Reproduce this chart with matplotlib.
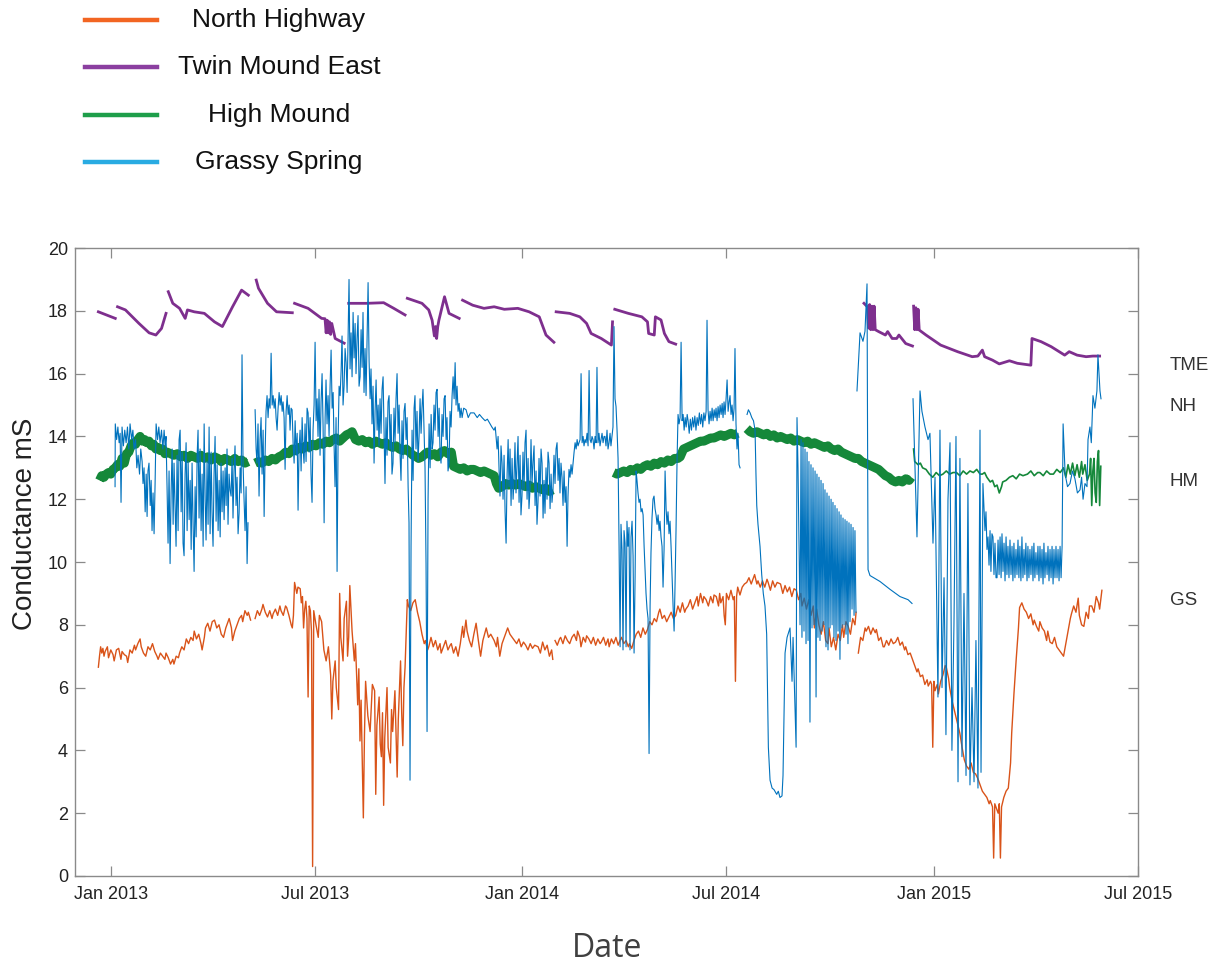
import numpy as np
import pandas as pd
import matplotlib
matplotlib.use('Agg')
import matplotlib.pyplot as plt
import matplotlib.dates as mdates
from matplotlib.lines import Line2D

nan = np.nan
t0 = pd.Timestamp('2013-01-01')

# (days after 1 Jan 2013, conductance mS); nan breaks the line between deployments
north_highway = [
    (-11, 6.65), (-10, 7.0), (-9, 7.3), (-8, 7.1), (-7, 7.25), (-6, 7.0), (-5, 7.15), (-3, 7.3), (-2, 6.95), (0, 7.2),
    (2, 7.05), (3, 6.85), (5, 7.2), (7, 7.25), (9, 6.9), (10, 7.15), (12, 7.05), (14, 7.0), (15, 6.8), (17, 7.2),
    (19, 7.1), (21, 7.35), (22, 7.2), (24, 7.4), (26, 7.55), (27, 7.3), (29, 7.1), (31, 7.0), (33, 7.3), (35, 7.2),
    (37, 7.4), (39, 7.15), (41, 7.0), (42, 6.9), (44, 7.1), (46, 7.0), (48, 6.9), (49, 7.1), (51, 6.95), (53, 6.75),
    (55, 6.9), (56, 6.75), (58, 7.0), (60, 6.95), (61, 7.1), (63, 7.3), (65, 7.2), (67, 7.55), (69, 7.4), (71, 7.6),
    (73, 7.5), (74, 7.8), (76, 7.55), (78, 7.7), (80, 7.4), (81, 7.2), (83, 7.6), (84, 7.9), (86, 8.05), (88, 7.8),
    (90, 8.1), (92, 8.15), (94, 7.9), (96, 8.0), (98, 7.7), (100, 7.6), (102, 7.9), (104, 8.1), (105, 8.2), (107, 7.9),
    (108, 7.5), (110, 7.8), (112, 8.0), (114, 8.2), (116, 8.3), (117, 8.1), (119, 8.45), (121, 8.3), (122, 8.4), (124, 8.15),
    (126, nan), (128, 8.2), (130, 8.45), (132, 8.3), (134, 8.5), (135, 8.65), (137, 8.4), (139, 8.25), (141, 8.45), (143, 8.2),
    (144, 8.35), (146, 8.5), (148, 8.3), (150, 8.6), (151, 8.45), (153, 8.3), (155, 8.6), (156, 8.55), (158, 8.3), (160, 8.0),
    (161, 7.9), (162, 8.3), (163, 9.35), (165, 9.0), (166, 9.2), (168, 9.15), (169, 8.7), (170, 8.9), (171, 7.9), (172, 8.5),
    (173, 8.75), (174, 8.2), (175, 5.7), (176, 8.6), (177, 8.45), (178, 7.8), (179, 0.3), (180, 8.45), (182, 8.0), (184, 7.6),
    (185, 8.3), (187, 8.1), (189, 7.2), (191, 6.85), (193, 7.3), (195, 6.4), (196, 5.0), (197, 6.2), (199, 6.85), (200, 6.0),
    (202, 5.3), (203, 9.0), (204, 7.6), (206, 6.85), (207, 8.2), (209, 8.75), (210, 7.0), (211, 7.6), (212, 9.25), (214, 7.8),
    (216, 6.85), (217, 7.4), (219, 5.45), (220, 6.6), (221, 4.3), (222, 5.6), (224, 1.85), (225, 4.5), (226, 6.2), (228, 5.1),
    (230, 4.6), (232, 6.1), (234, 5.9), (235, 2.6), (236, 4.8), (238, 5.7), (239, 4.2), (240, 3.8), (241, 5.2), (242, 2.25),
    (243, 4.4), (245, 6.0), (246, 4.1), (248, 3.6), (249, 5.3), (250, 4.6), (252, 5.9), (254, 3.15), (255, 5.0), (257, 6.85),
    (258, 5.2), (259, 4.15), (260, 6.0), (261, 6.65), (263, 8.8), (264, 8.6), (266, 8.45), (268, 8.7), (270, 8.8), (272, 8.4),
    (274, 8.1), (276, 7.7), (278, 7.4), (279, 7.5), (281, 7.2), (282, 7.3), (284, 7.6), (286, 7.3), (288, 7.5), (290, 7.2),
    (292, 7.4), (293, 7.1), (295, 7.3), (297, 7.5), (299, 7.2), (301, 7.35), (302, 7.4), (304, 7.1), (306, 7.3), (308, 7.0),
    (310, 7.4), (312, 7.95), (313, 7.6), (315, 8.15), (316, 7.8), (318, 7.5), (320, 7.3), (322, 7.7), (324, 8.05), (326, 7.5),
    (328, 7.0), (330, 7.5), (333, 7.9), (335, 7.6), (337, 7.7), (340, 7.5), (342, 7.3), (343, 7.6), (345, 7.0), (347, 7.4),
    (349, 7.6), (352, 7.9), (354, 7.7), (356, 7.6), (358, 7.5), (360, 7.4), (362, 7.55), (364, 7.3), (366, 7.45), (368, 7.35),
    (370, 7.2), (372, 7.4), (374, 7.25), (376, 7.35), (379, 7.3), (381, 7.1), (383, 7.45), (385, 7.2), (387, 7.35), (389, 7.0),
    (391, 7.2), (392, 6.9), (393, nan), (394, 7.5), (396, 7.35), (398, 7.55), (399, 7.6), (401, 7.4), (403, 7.65), (405, 7.5),
    (407, 7.4), (409, 7.6), (411, 7.7), (413, 7.5), (414, 7.8), (416, 7.6), (417, 7.3), (419, 7.6), (421, 7.45), (422, 7.65),
    (424, 7.55), (426, 7.4), (428, 7.6), (430, 7.35), (432, 7.55), (434, 7.4), (435, 7.45), (437, 7.6), (439, 7.35), (441, 7.55),
    (442, 7.3), (444, 7.55), (446, 7.4), (448, 7.6), (450, 7.35), (451, 7.45), (453, 7.6), (455, 7.4), (457, 7.5), (459, 7.3),
    (460, 7.4), (462, 7.25), (464, 7.5), (466, 7.7), (468, 7.8), (470, 7.6), (472, 7.9), (474, 7.7), (476, 7.85), (478, 8.1),
    (480, 8.0), (482, 8.2), (484, 8.1), (486, 8.4), (487, 8.5), (489, 8.2), (491, 8.3), (493, 8.1), (495, 8.25), (497, 8.4),
    (499, 8.2), (501, 8.3), (503, 8.6), (505, 8.4), (507, 8.7), (509, 8.4), (510, 8.5), (512, 8.6), (514, 8.8), (516, 8.5),
    (518, 8.7), (520, 8.9), (521, 8.6), (523, 9.0), (525, 8.7), (526, 8.9), (528, 8.8), (530, 8.6), (532, 8.9), (534, 8.7),
    (535, 8.95), (537, 8.9), (539, 8.6), (540, 9.0), (541, 8.7), (543, 8.9), (544, 8.3), (545, 8.0), (546, 9.0), (548, 8.8),
    (550, 9.1), (552, 8.8), (553, 8.9), (554, 6.2), (555, 8.9), (556, 9.2), (558, 8.95), (560, 9.2), (562, 9.3), (564, 9.35),
    (566, 9.5), (568, 9.3), (570, 9.5), (571, 9.6), (573, 9.3), (574, 9.4), (576, 9.2), (578, 9.4), (580, 9.2), (582, 9.45),
    (583, 9.35), (585, 9.1), (587, 9.4), (589, 9.2), (591, 9.35), (594, 9.3), (596, 9.0), (598, 9.25), (600, 9.05), (602, 9.2),
    (604, 8.9), (606, 9.15), (608, 9.1), (610, 8.8), (612, 9.0), (613, 8.6), (615, 8.85), (617, 8.5), (619, 8.8), (621, 8.3),
    (623, 8.6), (624, 7.9), (626, 8.5), (628, 8.0), (630, 7.7), (632, 8.1), (634, 7.5), (636, 7.4), (637, 7.9), (639, 7.3),
    (641, 7.6), (643, 7.2), (645, 7.7), (647, 7.5), (649, 8.0), (650, 7.6), (652, 8.1), (654, 7.95), (656, 7.7), (658, 8.2),
    (660, 8.0), (661, 8.4), (662, nan), (663, 7.1), (665, 7.6), (667, 7.5), (669, 7.9), (670, 7.8), (672, 7.95), (674, 7.7),
    (676, 7.9), (678, 7.75), (679, 7.85), (681, 7.5), (683, 7.6), (685, 7.3), (686, 7.3), (688, 7.5), (690, 7.35), (692, 7.55),
    (694, 7.4), (696, 7.45), (698, 7.6), (700, 7.35), (702, 7.45), (704, 7.2), (705, 7.3), (707, 7.05), (709, 7.1), (711, 6.9),
    (713, 6.7), (715, 6.5), (716, 6.6), (718, 6.35), (720, 6.4), (722, 6.1), (724, 6.25), (725, 6.05), (727, 6.2), (728, 6.1),
    (729, 4.1), (730, 6.2), (731, 5.9), (733, 6.1), (734, 5.8), (736, 6.2), (738, 6.4), (740, 6.7), (741, 6.65), (743, 6.3),
    (744, 6.0), (746, 5.6), (748, 5.3), (750, 5.0), (752, 4.7), (753, 4.55), (755, 4.1), (757, 3.7), (759, 3.5), (761, 3.4),
    (763, 3.6), (765, 3.3), (767, 3.25), (769, 3.1), (771, 2.9), (773, 2.7), (775, 2.6), (777, 2.5), (779, 2.3), (780, 2.4),
    (782, 2.2), (783, 0.57), (784, 2.3), (785, 2.2), (787, 2.0), (788, 2.3), (789, 0.57), (790, 2.2), (792, 2.5), (794, 2.7),
    (796, 2.8), (798, 3.6), (799, 4.55), (801, 5.8), (803, 6.9), (805, 7.9), (806, 8.55), (808, 8.7), (810, 8.5), (812, 8.4),
    (814, 8.2), (816, 8.35), (818, 8.0), (819, 8.15), (821, 7.95), (823, 7.8), (824, 8.1), (826, 7.9), (828, 7.8), (830, 7.5),
    (831, 7.8), (833, 7.45), (835, 7.4), (837, 7.6), (839, 7.3), (841, 7.2), (843, 7.1), (845, 7.0), (847, 7.4), (849, 7.8),
    (851, 8.2), (852, 8.35), (854, 8.6), (856, 8.4), (858, 8.85), (859, 8.3), (861, 8.0), (863, 7.95), (865, 8.4), (867, 8.2),
    (868, 8.6), (870, 8.6), (872, 8.4), (874, 8.9), (876, 8.7), (877, 8.5), (879, 9.1),
]

twin_mound_east = [
    (-11, 17.97), (4, 17.76), (5, nan), (6, 18.13), (13, 18.03), (25, 17.6), (34, 17.3), (40, 17.23), (45, 17.44), (49, 17.92),
    (50, nan), (51, 18.61), (55, 18.24), (61, 18.08), (66, 17.76), (68, 18.03), (74, 17.97), (83, 17.92), (92, 17.65), (99, 17.5),
    (108, 18.13), (116, 18.66), (122, 18.5), (125, nan), (129, 18.98), (131, 18.72), (139, 18.24), (147, 17.97), (161, 17.94), (162, nan),
    (163, 18.24), (175, 18.08), (187, 17.76), (190, 17.75), (191, 17.3), (192, 17.7), (193, 17.3), (194, 17.65), (195, 17.25), (196, 17.6),
    (199, 17.12), (207, 16.97), (209, nan), (211, 18.24), (227, 18.24), (242, 18.26), (251, 18.08), (261, 17.87), (262, nan), (263, 18.4),
    (276, 18.24), (282, 18.03), (285, 17.7), (287, 17.2), (288, 17.5), (289, 17.12), (290, 17.5), (291, 17.7), (296, 18.45), (300, 17.92),
    (309, 17.76), (310.5, nan), (312, 18.34), (321, 18.18), (331, 18.08), (340, 18.13), (349, 18.05), (361, 18.08), (371, 17.97), (380, 17.81),
    (386, 17.23), (393, 17.0), (394, nan), (395, 17.97), (407, 17.92), (416, 17.81), (422, 17.6), (426, 17.28), (435, 17.12), (444, 16.91),
    (445, 17.65), (446, nan), (447, 18.05), (459, 17.92), (471, 17.81), (476, 17.65), (477, 17.28), (482, 17.23), (483, 17.81), (488, 17.71),
    (491, 17.28), (495, 17.02), (501, 16.94), (502, nan), (668, 18.24), (671, 18.13), (672, 17.45), (673, 18.2), (674, 17.4), (675, 18.15),
    (676, 17.4), (677, 18.15), (678, 17.4), (681, 17.34), (687, 17.23), (689, 17.34), (693, 17.12), (697, 17.12), (699, 17.23), (705, 16.96),
    (711, 16.88), (711.5, nan), (712, 18.15), (713, 17.4), (714, 18.1), (715, 17.4), (716, 18.05), (717, 17.39), (723, 17.23), (736, 16.91),
    (751, 16.7), (764, 16.54), (769, 16.56), (773, 16.75), (775, 16.54), (782, 16.43), (788, 16.31), (797, 16.41), (804, 16.33), (816, 16.27),
    (817, 17.12), (825, 17.02), (834, 16.86), (846, 16.59), (850, 16.7), (857, 16.59), (865, 16.54), (871, 16.56), (877, 16.56),
]

high_mound = [
    (-10, 12.6), (-8, 12.75), (-6, 12.7), (-4, 12.8), (-2, 12.85), (0, 12.8), (2, 12.95), (4, 13.0), (6, 13.1), (8, 13.05),
    (10, 13.3), (12, 13.15), (14, 13.45), (16, 13.5), (18, 13.7), (20, 13.8), (22, 13.75), (24, 13.9), (26, 14.0), (28, 13.85),
    (30, 13.9), (32, 13.8), (34, 13.85), (36, 13.7), (38, 13.75), (40, 13.6), (42, 13.65), (44, 13.55), (46, 13.6), (48, 13.45),
    (50, 13.5), (53, 13.45), (56, 13.4), (59, 13.45), (62, 13.35), (65, 13.4), (68, 13.3), (71, 13.4), (74, 13.35), (77, 13.3),
    (80, 13.4), (83, 13.3), (86, 13.35), (89, 13.25), (92, 13.35), (95, 13.3), (98, 13.2), (101, 13.3), (104, 13.25), (107, 13.2),
    (110, 13.3), (113, 13.2), (116, 13.25), (119, 13.15), (122, 13.2), (124, nan), (128, 13.15), (131, 13.2), (134, 13.15), (137, 13.25),
    (140, 13.2), (143, 13.3), (146, 13.25), (149, 13.35), (152, 13.4), (155, 13.5), (158, 13.45), (161, 13.6), (164, 13.55), (167, 13.65),
    (170, 13.6), (173, 13.7), (176, 13.65), (179, 13.75), (182, 13.7), (185, 13.8), (188, 13.75), (191, 13.85), (194, 13.8), (197, 13.9),
    (200, 13.95), (203, 13.85), (206, 13.95), (209, 14.05), (212, 14.1), (214, 14.15), (217, 13.9), (220, 13.85), (223, 13.9), (226, 13.8),
    (229, 13.85), (232, 13.75), (235, 13.85), (238, 13.8), (241, 13.75), (244, 13.8), (247, 13.7), (250, 13.65), (253, 13.7), (256, 13.6),
    (259, 13.55), (262, 13.6), (265, 13.5), (268, 13.4), (271, 13.35), (273, 13.3), (276, 13.35), (279, 13.45), (281, 13.5), (284, 13.4),
    (287, 13.45), (290, 13.35), (293, 13.5), (296, 13.55), (299, 13.45), (302, 13.5), (304, 13.05), (307, 13.0), (310, 12.95), (313, 13.0),
    (316, 12.9), (319, 12.95), (322, 12.95), (325, 12.9), (328, 12.85), (331, 12.9), (334, 12.85), (337, 12.8), (340, 12.75), (342, 12.5),
    (344, 12.35), (347, 12.4), (350, 12.5), (353, 12.45), (356, 12.5), (359, 12.45), (362, 12.5), (365, 12.45), (368, 12.4), (371, 12.45),
    (374, 12.35), (377, 12.4), (380, 12.35), (383, 12.3), (386, 12.35), (389, 12.25), (392, 12.3), (420, nan), (446, 12.85), (449, 12.8),
    (452, 12.85), (455, 12.9), (458, 12.85), (461, 12.95), (464, 12.9), (467, 13.0), (470, 12.95), (473, 13.05), (476, 13.1), (479, 13.05),
    (482, 13.15), (485, 13.1), (488, 13.2), (491, 13.15), (494, 13.25), (497, 13.2), (500, 13.3), (503, 13.3), (505, 13.35), (508, 13.6),
    (511, 13.65), (514, 13.7), (517, 13.75), (520, 13.8), (523, 13.85), (526, 13.85), (529, 13.9), (532, 13.95), (535, 13.95), (538, 14.0),
    (541, 14.05), (544, 14.0), (547, 14.05), (550, 14.1), (553, 14.05), (556, 14.1), (557, nan), (564, 14.25), (567, 14.15), (570, 14.1),
    (573, 14.15), (576, 14.1), (579, 14.05), (582, 14.1), (585, 14.0), (588, 14.05), (591, 13.95), (594, 14.0), (597, 13.95), (600, 13.9),
    (603, 13.95), (606, 13.85), (609, 13.9), (612, 13.85), (615, 13.8), (618, 13.85), (621, 13.75), (624, 13.8), (627, 13.75), (630, 13.7),
    (633, 13.65), (636, 13.7), (639, 13.6), (642, 13.55), (645, 13.6), (648, 13.5), (651, 13.45), (654, 13.4), (657, 13.35), (660, 13.3),
    (663, 13.3), (666, 13.2), (669, 13.15), (672, 13.1), (675, 13.05), (678, 13.0), (681, 12.95), (684, 12.85), (687, 12.75), (690, 12.7),
    (693, 12.6), (696, 12.55), (699, 12.6), (702, 12.55), (705, 12.65), (708, 12.6), (710, 12.7), (711, nan), (712, 13.6), (713, 13.2),
    (716, 13.1), (718, 13.15), (720, 13.0), (723, 12.95), (726, 12.8), (729, 12.7), (732, 12.85), (735, 12.75), (738, 12.8), (741, 12.9),
    (744, 12.8), (747, 12.85), (750, 12.85), (753, 12.75), (756, 12.9), (759, 12.8), (762, 12.9), (765, 12.85), (768, 12.95), (771, 12.8),
    (773, 12.8), (775, 12.85), (777, 12.7), (780, 12.55), (782, 12.6), (784, 12.4), (786, 12.45), (788, 12.2), (790, 12.4), (791, 12.55),
    (794, 12.6), (797, 12.7), (800, 12.75), (803, 12.65), (806, 12.8), (809, 12.75), (813, 12.8), (816, 12.9), (819, 12.75), (822, 12.85),
    (824, 12.85), (827, 12.75), (830, 12.9), (833, 12.8), (836, 12.8), (839, 12.95), (842, 12.85), (845, 13.0), (847, 12.7), (849, 13.1),
    (851, 12.8), (853, 13.15), (855, 12.75), (857, 13.1), (859, 12.7), (861, 13.2), (862, 12.8), (864, 13.1), (866, 12.6), (868, 12.8),
    (869, 13.3), (870, 11.8), (871, 12.9), (872, 13.3), (873, 12.2), (874, 11.9), (875, 13.2), (876, 13.55), (877, 11.8), (878, 13.05),
]

grassy_spring = [
    (3.8, 12.4), (4.0, 14.4), (5.2, 13.9), (6.3, 14.3), (7.4, 13.8), (8.3, 14.1), (9.1, 11.9), (10.0, 14.3), (11.2, 13.7), (12.4, 14.2),
    (13.6, 13.8), (14.8, 14.3), (16.0, 13.6), (17.1, 14.4), (18.5, 13.9), (19.6, 14.2), (20.7, 13.6), (22.0, 13.9), (23.1, 13.0), (24.2, 13.4),
    (25.5, 12.8), (26.6, 13.6), (27.8, 13.2), (28.6, 12.5), (29.5, 13.0), (30.5, 11.6), (31.4, 12.8), (32.2, 11.45), (33.0, 12.9), (33.9, 13.15),
    (35.0, 11.8), (35.8, 12.6), (36.6, 11.0), (37.5, 12.2), (38.4, 10.9), (39.3, 12.5), (40.2, 14.4), (41.5, 13.9), (42.6, 14.3), (43.7, 13.8),
    (45.0, 14.2), (46.2, 13.6), (47.3, 14.2), (48.2, 13.7), (49.0, 14.0), (49.9, 12.4), (50.8, 10.6), (51.7, 12.9), (52.6, 9.95), (53.5, 12.2),
    (54.4, 13.6), (55.3, 11.2), (56.1, 13.15), (57.0, 11.8), (57.9, 10.5), (58.8, 13.4), (59.7, 11.0), (60.6, 13.9), (61.5, 14.2), (62.4, 11.6),
    (63.3, 13.5), (64.1, 10.6), (65.0, 10.2), (65.9, 12.8), (66.8, 13.8), (67.7, 11.0), (68.6, 13.2), (69.5, 11.35), (70.4, 12.6), (71.3, 10.4),
    (72.1, 13.15), (73.0, 11.2), (73.9, 9.7), (74.8, 12.4), (75.7, 10.8), (76.6, 13.4), (77.4, 14.2), (78.3, 11.4), (79.2, 13.6), (80.1, 11.0),
    (81.0, 12.8), (81.9, 10.5), (82.8, 14.4), (83.7, 12.0), (84.5, 10.7), (85.4, 13.2), (86.3, 11.2), (87.2, 14.3), (88.1, 10.9), (89.0, 13.5),
    (89.8, 11.6), (90.7, 10.5), (91.6, 12.8), (92.5, 14.0), (93.4, 11.3), (94.3, 13.1), (95.2, 11.0), (96.1, 12.6), (97.0, 10.8), (97.8, 13.15),
    (98.7, 11.6), (99.6, 12.9), (100.5, 11.35), (101.4, 13.0), (102.3, 11.8), (103.1, 13.6), (104.0, 11.2), (104.9, 12.8), (105.8, 12.3), (106.7, 12.1),
    (107.6, 13.3), (108.4, 11.4), (109.3, 12.9), (110.2, 13.7), (111.1, 11.8), (112.0, 12.7), (112.9, 10.9), (113.8, 11.55), (114.7, 13.0), (115.6, 12.2),
    (116.4, 16.6), (117.3, 13.15), (118.2, 12.0), (119.1, 11.0), (120.0, 12.4), (120.9, 9.95), (121.7, 11.25), (125.0, nan),
    (128.0, 14.85), (128.9, 13.6), (129.7, 13.15), (130.6, 14.4), (131.5, 12.1), (132.4, 13.9), (133.3, 14.6), (134.2, 12.8), (135.1, 14.2), (136.0, 11.45),
    (136.9, 13.5), (137.7, 14.8), (138.6, 15.3), (139.5, 14.6), (140.4, 15.2), (141.3, 14.9), (142.2, 16.65), (143.1, 15.0), (144.0, 15.3), (144.9, 14.9),
    (145.8, 15.2), (146.6, 14.6), (147.5, 14.2), (148.4, 14.9), (149.3, 15.4), (150.2, 15.0), (151.1, 15.3), (152.0, 14.8), (152.8, 15.1), (153.7, 14.6),
    (154.6, 12.95), (155.5, 14.8), (156.4, 15.3), (157.3, 14.7), (158.2, 15.0), (159.0, 14.2), (159.9, 14.9), (160.8, 14.85), (161.7, 13.8), (162.6, 13.15),
    (163.5, 14.5), (164.4, 13.4), (165.3, 14.1), (166.1, 11.65), (167.0, 13.6), (167.9, 14.2), (168.8, 12.9), (169.7, 14.6), (170.6, 13.6), (171.4, 13.15),
    (172.3, 14.4), (173.2, 13.2), (174.1, 14.9), (175.0, 14.75), (175.9, 13.5), (176.8, 14.6), (177.6, 12.8), (178.5, 11.9), (179.4, 14.2), (180.3, 15.0),
    (181.2, 17.0), (182.1, 14.5), (183.0, 15.2), (183.8, 14.0), (184.7, 15.5), (185.6, 13.4), (186.5, 15.1), (187.4, 16.0), (188.3, 14.3), (189.2, 11.25),
    (190.1, 14.6), (190.9, 15.8), (191.8, 14.4), (192.7, 15.3), (193.6, 14.0), (194.5, 15.6), (195.4, 16.75), (196.3, 14.9), (197.2, 15.4), (198.0, 13.8),
    (198.9, 12.4), (199.8, 14.6), (200.7, 9.7), (201.6, 13.9), (202.5, 15.6), (203.4, 15.3), (204.3, 16.1), (205.1, 17.2), (206.0, 15.0), (206.9, 15.6),
    (207.8, 16.8), (208.7, 16.35), (209.6, 15.4), (210.4, 17.0), (211.3, 19.0), (212.2, 16.15), (213.1, 17.3), (214.0, 15.9), (214.9, 17.95), (215.8, 16.5),
    (216.7, 17.6), (217.5, 16.0), (218.4, 17.1), (219.3, 17.85), (220.2, 15.6), (221.1, 15.9), (222.0, 17.4), (222.9, 16.2), (223.7, 17.95), (224.6, 15.4),
    (225.5, 16.8), (226.4, 15.3), (227.3, 17.2), (228.2, 18.9), (229.1, 16.4), (230.0, 15.2), (230.8, 16.15), (231.7, 14.4), (232.6, 15.6), (233.5, 13.15),
    (234.4, 14.8), (235.3, 15.8), (236.2, 14.2), (237.1, 15.0), (237.9, 13.7), (238.8, 15.2), (239.7, 14.1), (240.6, 15.5), (241.5, 15.9), (242.4, 14.0),
    (243.2, 12.5), (244.1, 14.6), (245.0, 13.4), (245.9, 15.1), (246.8, 15.3), (247.7, 13.6), (248.6, 14.7), (249.4, 12.8), (250.3, 13.15), (251.2, 14.9),
    (252.1, 13.8), (253.0, 15.2), (253.9, 16.0), (254.8, 14.1), (255.7, 15.0), (256.6, 13.4), (257.4, 12.6), (258.3, 14.5), (259.2, 13.3), (260.1, 14.8),
    (261.0, 15.05), (261.9, 13.9), (262.8, 14.6), (263.7, 12.4), (264.5, 11.25), (265.4, 3.05), (266.3, 10.5), (267.2, 14.2), (268.1, 12.6), (269.0, 14.9),
    (269.8, 15.3), (270.7, 13.6), (271.6, 14.8), (272.5, 13.2), (273.4, 14.0), (274.3, 15.2), (275.2, 14.1), (276.0, 14.9), (276.9, 15.5), (277.8, 14.3),
    (278.7, 13.0), (279.6, 9.95), (280.5, 4.6), (281.4, 12.0), (282.3, 14.4), (283.2, 13.0), (284.1, 14.7), (285.0, 13.6), (285.8, 13.8), (286.7, 15.0),
    (287.6, 14.2), (288.5, 15.4), (289.4, 15.5), (290.3, 14.0), (291.2, 14.9), (292.0, 13.5), (292.9, 13.15), (293.8, 14.7), (294.7, 14.0), (295.6, 15.2),
    (296.5, 15.3), (297.4, 13.9), (298.2, 14.6), (299.1, 12.9), (300.0, 13.15), (300.9, 14.8), (301.8, 14.3), (302.7, 15.3), (303.6, 15.9), (304.5, 15.2),
    (305.4, 16.35), (306.2, 15.0), (307.1, 15.6), (308.0, 14.8), (308.9, 15.05), (309.8, 14.6), (310.7, 14.9), (311.6, 14.6), (313.0, 14.9), (315.1, 14.85),
    (317.0, 14.6), (319.0, 14.75), (322.2, 14.75), (325.0, 14.6), (327.0, 14.7), (329.3, 14.6), (332.0, 14.5), (334.0, 14.55), (336.4, 14.4), (338.0, 14.3),
    (339.9, 14.2), (341.0, 14.3), (342.6, 13.6), (343.5, 14.0), (344.4, 12.9), (345.2, 12.1), (346.1, 13.7), (347.0, 13.15), (347.9, 12.0), (348.8, 13.4),
    (349.7, 11.6), (350.6, 10.6), (351.5, 12.8), (352.4, 13.9), (353.2, 12.4), (354.1, 13.6), (355.0, 11.8), (355.9, 13.3), (356.8, 12.0), (357.6, 12.6),
    (358.5, 13.8), (359.4, 12.2), (360.3, 13.1), (361.2, 14.0), (362.1, 11.9), (363.0, 13.4), (363.8, 11.5), (364.7, 12.1), (365.6, 13.5), (366.5, 12.3),
    (367.4, 13.8), (368.3, 14.2), (369.2, 12.0), (370.1, 13.3), (370.9, 11.7), (371.8, 12.3), (372.7, 13.9), (373.6, 12.5), (374.5, 13.2), (375.4, 13.7),
    (376.3, 11.8), (377.2, 12.9), (378.0, 11.2), (378.9, 11.9), (379.8, 13.3), (380.7, 12.1), (381.6, 13.6), (382.5, 13.15), (383.4, 11.4), (384.2, 12.6),
    (385.1, 11.55), (386.0, 13.0), (386.9, 12.0), (387.8, 13.5), (388.7, 13.15), (389.6, 11.7), (390.5, 12.8), (391.3, 11.9), (392.2, 12.3), (393.1, 13.4),
    (394.0, 12.5), (394.9, 13.6), (395.8, 13.8), (396.7, 12.6), (397.6, 13.3), (398.4, 12.2), (399.3, 13.15), (400.2, 12.7), (401.1, 11.8), (402.0, 12.9),
    (402.9, 11.9), (403.8, 12.4), (404.7, 10.5), (405.5, 12.1), (406.4, 12.95), (407.3, 12.7), (408.2, 13.1), (409.1, 12.8), (410.0, 13.15), (410.9, 13.5),
    (411.8, 13.8), (412.7, 13.6), (413.6, 13.9), (414.4, 13.7), (415.3, 13.8), (416.2, 13.9), (417.1, 16.0), (418.0, 13.8), (418.9, 14.0), (419.7, 13.7),
    (420.6, 13.9), (421.5, 13.8), (422.4, 14.1), (423.3, 13.7), (424.2, 16.1), (425.1, 13.9), (426.0, 13.8), (426.8, 14.0), (427.7, 13.9), (428.6, 13.6),
    (429.5, 14.0), (430.4, 13.8), (431.2, 16.2), (432.1, 13.8), (433.0, 14.1), (433.9, 13.7), (434.8, 13.9), (435.7, 14.1), (436.6, 13.8), (437.5, 14.0),
    (438.3, 14.0), (439.2, 13.7), (440.1, 14.2), (441.0, 13.6), (441.9, 13.8), (442.8, 14.1), (443.6, 13.7), (444.5, 14.0), (445.4, 14.3), (446.3, 17.5),
    (447.2, 15.2), (448.1, 14.95), (449.0, 14.2), (449.9, 13.3), (450.8, 10.5), (451.7, 7.3), (452.5, 11.2), (453.4, 10.4), (454.3, 7.2), (455.2, 11.0),
    (456.1, 10.6), (457.0, 7.3), (457.8, 11.3), (458.7, 10.5), (459.6, 11.1), (460.5, 7.2), (461.4, 10.8), (462.3, 11.3), (463.2, 10.2), (464.1, 7.1),
    (465.0, 9.5), (465.9, 12.9), (466.7, 12.6), (467.6, 12.2), (468.5, 11.9), (469.4, 12.0), (470.3, 11.6), (471.2, 11.7), (472.1, 11.5), (473.0, 10.5),
    (473.8, 9.8), (474.7, 9.0), (475.6, 8.5), (476.5, 8.2), (477.4, 3.9), (478.3, 8.6), (479.1, 10.3), (480.0, 11.4), (480.9, 12.0), (481.8, 12.1),
    (482.7, 11.7), (483.6, 11.5), (484.5, 11.2), (485.4, 11.5), (486.3, 11.0), (487.1, 11.3), (488.0, 10.8), (488.9, 10.5), (489.8, 9.2), (490.7, 10.4),
    (491.6, 12.9), (492.5, 11.7), (493.3, 11.2), (494.2, 11.6), (495.1, 10.9), (496.0, 11.3), (496.9, 10.5), (497.8, 9.5), (498.7, 8.6), (499.6, 7.8),
    (500.4, 9.2), (501.3, 11.0), (502.2, 13.2), (503.1, 14.7), (504.0, 14.4), (504.9, 14.6), (505.8, 17.0), (506.7, 14.5), (507.6, 14.7), (508.5, 14.2),
    (509.4, 14.6), (510.3, 14.3), (511.2, 14.7), (512.0, 14.5), (513.0, 14.1), (514.0, 14.55), (515.0, 14.2), (516.0, 14.6), (517.0, 14.3), (518.0, 14.65),
    (519.0, 14.2), (520.0, 14.6), (521.0, 14.35), (522.0, 14.75), (523.0, 14.4), (524.0, 14.7), (525.0, 14.3), (526.0, 14.75), (527.0, 14.5), (528.0, 14.8),
    (528.8, 17.7), (529.7, 14.85), (530.6, 14.4), (531.5, 14.8), (532.4, 14.5), (533.3, 14.9), (534.2, 14.5), (535.1, 14.85), (536.0, 14.6), (536.8, 14.9),
    (537.7, 14.5), (538.6, 14.95), (539.5, 14.6), (540.4, 15.0), (541.3, 14.7), (542.2, 15.05), (543.0, 14.6), (543.9, 15.1), (544.8, 14.7), (545.7, 15.2),
    (546.6, 15.8), (547.5, 14.8), (548.4, 15.1), (549.2, 15.3), (550.1, 14.7), (551.0, 15.0), (551.9, 14.5), (552.8, 14.9), (553.6, 16.8), (554.5, 14.4),
    (555.4, 13.6), (556.3, 14.1), (557.2, 13.1), (558.1, 13.0), (561.0, nan), (564.3, 14.7), (565.5, 14.85), (567.0, 14.75), (568.5, 14.6), (570.0, 14.5),
    (571.4, 14.2), (572.2, 12.8), (572.9, 11.8), (574.0, 11.2), (575.8, 10.5), (577.3, 9.6), (578.7, 9.0), (580.2, 8.6), (581.7, 7.7), (583.2, 4.1),
    (584.7, 3.05), (586.5, 2.8), (588.2, 2.75), (590.6, 2.6), (592.0, 2.7), (593.5, 2.5), (595.3, 2.55), (596.2, 3.2), (598.0, 7.1), (599.8, 7.6),
    (602.4, 7.9), (604.2, 6.2), (605.1, 7.6), (607.8, 4.1), (608.6, 14.6), (609.5, 13.0), (611.3, 8.0), (612.2, 13.9), (613.0, 7.6), (613.9, 13.8),
    (614.8, 7.8), (615.7, 13.6), (616.6, 7.4), (617.5, 13.5), (618.4, 7.5), (619.2, 13.2), (620.1, 4.9), (621.0, 13.1), (621.9, 7.9), (622.8, 13.0),
    (623.7, 8.0), (624.6, 12.9), (625.5, 5.7), (626.3, 12.8), (627.2, 7.6), (628.1, 12.7), (629.0, 7.5), (629.9, 12.6), (630.8, 7.8), (631.7, 12.5),
    (632.6, 8.0), (633.4, 12.3), (634.3, 7.3), (635.2, 12.2), (636.1, 7.2), (637.0, 12.1), (637.9, 7.9), (638.8, 12.0), (639.7, 8.0), (640.5, 11.9),
    (641.4, 7.6), (642.3, 11.8), (643.2, 7.5), (644.1, 11.7), (645.0, 7.8), (645.9, 11.6), (646.7, 6.9), (647.6, 11.5), (648.5, 7.9), (649.4, 11.4),
    (650.3, 8.0), (651.2, 11.35), (652.1, 7.7), (652.9, 11.3), (653.8, 7.4), (654.7, 11.25), (655.6, 8.1), (656.5, 11.2), (657.4, 8.5), (658.3, 11.1),
    (659.2, 8.3), (660.0, 11.0), (660.9, 8.4), (661.5, nan), (661.8, 15.45), (664.5, 17.3), (667.1, 17.03), (668.9, 17.35), (670.7, 18.86), (671.6, 9.76),
    (673.3, 9.57), (682.2, 9.38), (691.1, 9.13), (699.9, 8.9), (707.1, 8.8), (710.6, 8.68), (711.2, nan), (711.5, 15.2), (715.0, 10.8), (717.7, 15.45),
    (719.4, 14.8), (722.1, 14.3), (724.8, 13.9), (726.5, 14.1), (728.3, 11.8), (729.2, 10.6), (731.0, 12.7), (733.6, 5.7), (735.4, 14.2), (737.2, 6.0),
    (739.0, 9.5), (740.7, 4.5), (742.5, 12.0), (744.3, 13.8), (746.0, 4.0), (747.8, 8.0), (749.6, 14.0), (751.4, 3.0), (753.1, 13.3), (754.9, 3.8),
    (756.7, 9.0), (758.5, 3.2), (760.2, 12.5), (762.0, 2.9), (763.8, 6.0), (765.6, 3.0), (767.3, 7.5), (769.1, 2.8), (770.9, 14.2), (771.8, 3.3),
    (773.5, 12.5), (775.3, 11.0), (776.2, 11.6), (777.1, 10.4), (778.0, 10.8), (778.9, 9.9), (779.8, 11.0), (780.6, 9.7), (781.5, 10.9), (782.4, 10.8),
    (783.3, 9.6), (784.2, 10.6), (785.1, 9.5), (786.0, 9.5), (786.9, 10.7), (787.8, 9.6), (788.7, 10.8), (789.6, 9.5), (790.4, 10.9), (791.3, 9.7),
    (792.2, 10.6), (793.1, 9.4), (794.0, 10.8), (794.8, 9.6), (795.7, 10.5), (796.6, 9.5), (797.5, 10.7), (798.4, 9.6), (799.3, 10.5), (800.1, 9.4),
    (801.0, 10.6), (801.9, 9.5), (802.8, 10.4), (803.7, 9.6), (804.6, 10.7), (805.4, 9.5), (806.3, 10.5), (807.2, 9.4), (808.1, 10.8), (809.0, 9.5),
    (809.9, 10.4), (810.7, 9.6), (811.6, 10.6), (812.6, 9.4), (813.4, 10.5), (814.3, 9.5), (815.2, 10.4), (816.1, 9.6), (817.0, 10.5), (817.9, 9.4),
    (818.7, 10.6), (819.6, 9.5), (820.5, 10.3), (821.5, 9.6), (822.3, 10.5), (823.2, 9.4), (824.1, 10.5), (825.0, 9.5), (825.9, 10.4), (826.8, 9.3),
    (827.6, 10.6), (828.5, 9.5), (829.4, 10.3), (830.4, 9.6), (831.2, 10.5), (832.1, 9.4), (833.0, 10.4), (833.9, 9.5), (834.8, 10.5), (835.7, 9.3),
    (836.5, 10.4), (837.4, 9.5), (838.3, 10.5), (839.2, 9.5), (840.1, 10.4), (841.0, 9.4), (841.9, 10.5), (842.8, 9.5), (843.7, 10.5), (844.6, 14.4),
    (846.4, 12.8), (848.5, 12.4), (850.7, 12.5), (852.9, 12.9), (855.1, 12.65), (857.3, 12.2), (859.6, 12.3), (861.0, 12.7), (862.3, 12.0), (864.0, 12.5),
    (865.8, 12.4), (866.7, 13.9), (868.4, 14.3), (869.6, 13.8), (871.1, 15.3), (872.8, 14.9), (874.6, 15.45), (875.5, 16.6), (877.3, 15.45), (878.2, 15.2),
]

series_labels = ['North Highway', 'Twin Mound East', 'High Mound', 'Grassy Spring']
legend_colors = ['#f26522', '#8b3fa0', '#1e9e4a', '#29abe2']
site_tags = ['TME', 'NH', 'HM', 'GS']
site_tag_y = [16.27, 14.94, 12.55, 8.79]


def unpack(pairs):
    d, v = np.array(pairs, dtype=float).T
    return t0 + pd.to_timedelta(d, unit='D'), d, v


plt.rcParams['font.family'] = ['Liberation Sans', 'DejaVu Sans']

fig = plt.figure(figsize=(12.26, 9.66), dpi=100)
ax = fig.add_axes([0.0612, 0.0932, 0.867, 0.650])

# High Mound logged as a wide daily band until Jan 2015, then a thin trace
hm_t, hm_d, hm_v = unpack(high_mound)
band = hm_d < 711
ax.plot(hm_t, np.where(band, hm_v, nan), color='#15883a', lw=6.5,
        solid_capstyle='butt', solid_joinstyle='round')
ax.plot(hm_t, np.where(band, nan, hm_v), color='#15883a', lw=1.2)

tme_t, _, tme_v = unpack(twin_mound_east)
ax.plot(tme_t, tme_v, color='#7e2f8e', lw=2.0)

nh_t, _, nh_v = unpack(north_highway)
ax.plot(nh_t, nh_v, color='#d95319', lw=1.0)

gs_t, _, gs_v = unpack(grassy_spring)
ax.plot(gs_t, gs_v, color='#0072bd', lw=0.8)

ax.set_xlim(t0 + pd.Timedelta(days=-31.7), pd.Timestamp('2015-07-01'))
ax.set_ylim(0, 20)
ax.set_yticks(range(0, 21, 2))
ax.xaxis.set_major_locator(mdates.MonthLocator(bymonth=[1, 7]))
ax.xaxis.set_major_formatter(mdates.DateFormatter('%b %Y'))

for s in ax.spines.values():
    s.set_color('#8a8a8a')
    s.set_linewidth(1.0)
ax.tick_params(direction='in', length=7.5, width=0.9, color='#8a8a8a',
               labelsize=13, labelcolor='#222222', top=True, right=True)
ax.tick_params(axis='x', pad=7)
ax.tick_params(axis='y', pad=5)

tr = ax.get_yaxis_transform()
for tag, y in zip(site_tags, site_tag_y):
    ax.text(1.030, y, tag, transform=tr, fontsize=13.5, color='#333333',
            ha='left', va='center', clip_on=False)

fig.text(0.0204, 0.4576, 'Conductance mS', rotation=90, fontsize=20,
         color='#222222', ha='center', va='center')
fig.text(0.4951, 0.0186, 'Date', fontsize=23, color='#404040',
         family=['Open Sans', 'DejaVu Sans'], ha='center', va='center')

# legend drawn by hand so the labels sit centred in a column
row_y = [0.9793, 0.9306, 0.8810, 0.8323]
for lab, col, y in zip(series_labels, legend_colors, row_y):
    fig.add_artist(Line2D([0.0693, 0.1281], [y, y], color=col, lw=3.2,
                          transform=fig.transFigure))
    fig.text(0.2276, y, lab, fontsize=19, color='#111111', ha='center', va='center')

fig.savefig('out.png', dpi=100, facecolor='white')
